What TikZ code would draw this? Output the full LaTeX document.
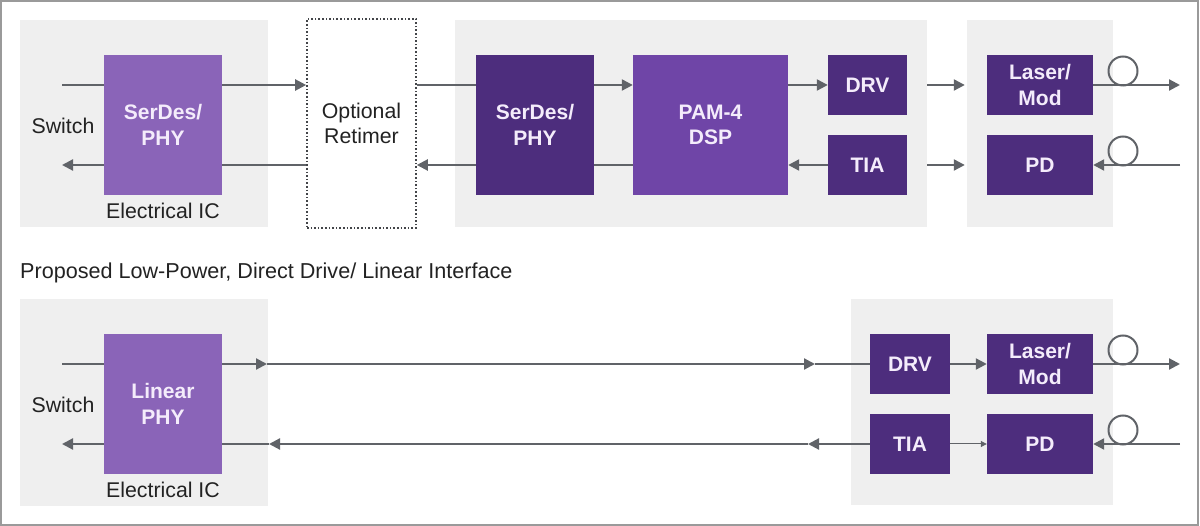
\documentclass[tikz,border=0pt]{standalone}
\usepackage{fontspec}
\setmainfont{Liberation Sans}
\usetikzlibrary{arrows.meta}
\definecolor{panelgray}{HTML}{EFEFEF}
\definecolor{lightpur}{HTML}{8A64B8}
\definecolor{midpur}{HTML}{6F45A7}
\definecolor{darkpur}{HTML}{4D2D7D}
\definecolor{linegray}{HTML}{606368}
\definecolor{boxtext}{HTML}{F4ECFB}
\definecolor{txt}{HTML}{222222}
\definecolor{framegray}{HTML}{9A9A9A}
\tikzset{
  panel/.style={fill=panelgray, draw=none, inner sep=0pt},
  blk/.style={draw=none, inner sep=0pt, align=center, text=boxtext,
    font=\fontsize{21}{25.5}\selectfont\bfseries},
  lbl/.style={inner sep=0pt, text=txt, align=center,
    font=\fontsize{21.3}{25}\selectfont},
  conn/.style={draw=linegray, line width=2.2pt},
  arr/.style={conn, -{Triangle[length=11pt,width=11pt]}},
  thinarr/.style={draw=linegray, line width=1pt, -{Triangle[length=6pt,width=6pt]}},
  fiber/.style={circle, draw=linegray, line width=2pt, minimum size=29pt, inner sep=0pt}
}
\begin{document}
\begin{tikzpicture}[x=1pt,y=-1pt]
\useasboundingbox (0,0) rectangle (1200,526);
\draw[framegray, line width=2pt] (1,1) rectangle (1198,525);

% ---------- top row ----------
\node[panel, minimum width=248pt, minimum height=207pt] (pan1) at (144,123.5) {};
\node[panel, minimum width=472pt, minimum height=207pt] (pan2) at (691,123.5) {};
\node[panel, minimum width=146pt, minimum height=207pt] (pan3) at (1040,123.5) {};

\node[blk, fill=lightpur, minimum width=118pt, minimum height=140pt] (ser1) at (163,125) {SerDes/\\PHY};
\node[draw=linegray!70!black, dotted, line width=1.6pt, minimum width=109pt, minimum height=209pt, inner sep=0pt, align=center, text=txt, font=\fontsize{21.3}{25}\selectfont] (ret) at (361.5,123.5) {Optional\\Retimer};
\node[blk, fill=darkpur, minimum width=118pt, minimum height=140pt] (ser2) at (535,125) {SerDes/\\PHY};
\node[blk, fill=midpur, minimum width=155pt, minimum height=140pt] (pam) at (710.5,125) {PAM-4\\DSP};
\node[blk, fill=darkpur, minimum width=79pt, minimum height=60pt] (drv1) at (867.5,85) {DRV};
\node[blk, fill=darkpur, minimum width=79pt, minimum height=60pt] (tia1) at (867.5,165) {TIA};
\node[blk, fill=darkpur, minimum width=106pt, minimum height=60pt] (las1) at (1040,85) {Laser/\\Mod};
\node[blk, fill=darkpur, minimum width=106pt, minimum height=60pt] (pd1) at (1040,165) {PD};

\node[lbl] (sw1) at (63,126) {Switch};
\node[lbl] (eic1) at (163,211) {Electrical IC};

\coordinate (sw1in) at (62,85);
\coordinate (sw1out) at (62,165);
\coordinate (o1) at (1180,85);
\coordinate (i1) at (1180,165);

\draw[conn] (sw1in) -- (ser1.west |- sw1in);
\draw[arr] (ser1.west |- sw1out) -- (sw1out);
\draw[arr] (ser1.east |- sw1in) -- (ret.west |- sw1in);
\draw[conn] (ret.west |- sw1out) -- (ser1.east |- sw1out);
\draw[conn] (ret.east |- sw1in) -- (ser2.west |- sw1in);
\draw[arr] (ser2.west |- sw1out) -- (ret.east |- sw1out);
\draw[arr] (ser2.east |- sw1in) -- (pam.west |- sw1in);
\draw[conn] (pam.west |- sw1out) -- (ser2.east |- sw1out);
\draw[arr] (pam.east |- drv1) -- (drv1.west);
\draw[arr] (tia1.west) -- (pam.east |- tia1);
\draw[arr] (pan2.east |- drv1) -- ([xshift=-2pt]pan3.west |- las1);
\draw[arr] (pan2.east |- tia1) -- ([xshift=-2pt]pan3.west |- pd1);
\draw[arr] (las1.east) -- (o1);
\draw[arr] (i1) -- (pd1.east);
\node[fiber] (f1) at (1123,71) {};
\node[fiber] (f2) at (1123,151) {};

% ---------- title ----------
\node[lbl, anchor=west, font=\fontsize{21.6}{25}\selectfont] (title) at (20,273) {Proposed Low-Power, Direct Drive/ Linear Interface};

% ---------- bottom row ----------
\node[panel, minimum width=248pt, minimum height=207pt] (pan4) at (144,402.5) {};
\node[panel, minimum width=262pt, minimum height=206pt] (pan5) at (982,402) {};

\node[blk, fill=lightpur, minimum width=118pt, minimum height=140pt] (lin) at (163,404) {Linear\\PHY};
\node[blk, fill=darkpur, minimum width=80pt, minimum height=60pt] (drv2) at (910,364) {DRV};
\node[blk, fill=darkpur, minimum width=80pt, minimum height=60pt] (tia2) at (910,444) {TIA};
\node[blk, fill=darkpur, minimum width=106pt, minimum height=60pt] (las2) at (1040,364) {Laser/\\Mod};
\node[blk, fill=darkpur, minimum width=106pt, minimum height=60pt] (pd2) at (1040,444) {PD};

\node[lbl] (sw2) at (63,405) {Switch};
\node[lbl] (eic2) at (163,490) {Electrical IC};

\coordinate (sw2in) at (62,364);
\coordinate (sw2out) at (62,444);
\coordinate (m1) at (267,364);
\coordinate (m2) at (815,364);
\coordinate (m3) at (808,444);
\coordinate (m4) at (269,444);
\coordinate (o2) at (1180,364);
\coordinate (i2) at (1180,444);

\draw[conn] (sw2in) -- (lin.west |- sw2in);
\draw[arr] (lin.west |- sw2out) -- (sw2out);
\draw[arr] (lin.east |- m1) -- (m1);
\draw[arr] (m1) -- (m2);
\draw[conn] (m2) -- (drv2.west);
\draw[arr] (tia2.west) -- (m3);
\draw[arr] (m3) -- (m4);
\draw[conn] (m4) -- (lin.east |- m4);
\draw[arr] (drv2.east) -- (las2.west);
\draw[thinarr] (tia2.east) -- (pd2.west);
\draw[arr] (las2.east) -- (o2);
\draw[arr] (i2) -- (pd2.east);
\node[fiber] (f3) at (1123,350) {};
\node[fiber] (f4) at (1123,430) {};
\end{tikzpicture}
\end{document}
